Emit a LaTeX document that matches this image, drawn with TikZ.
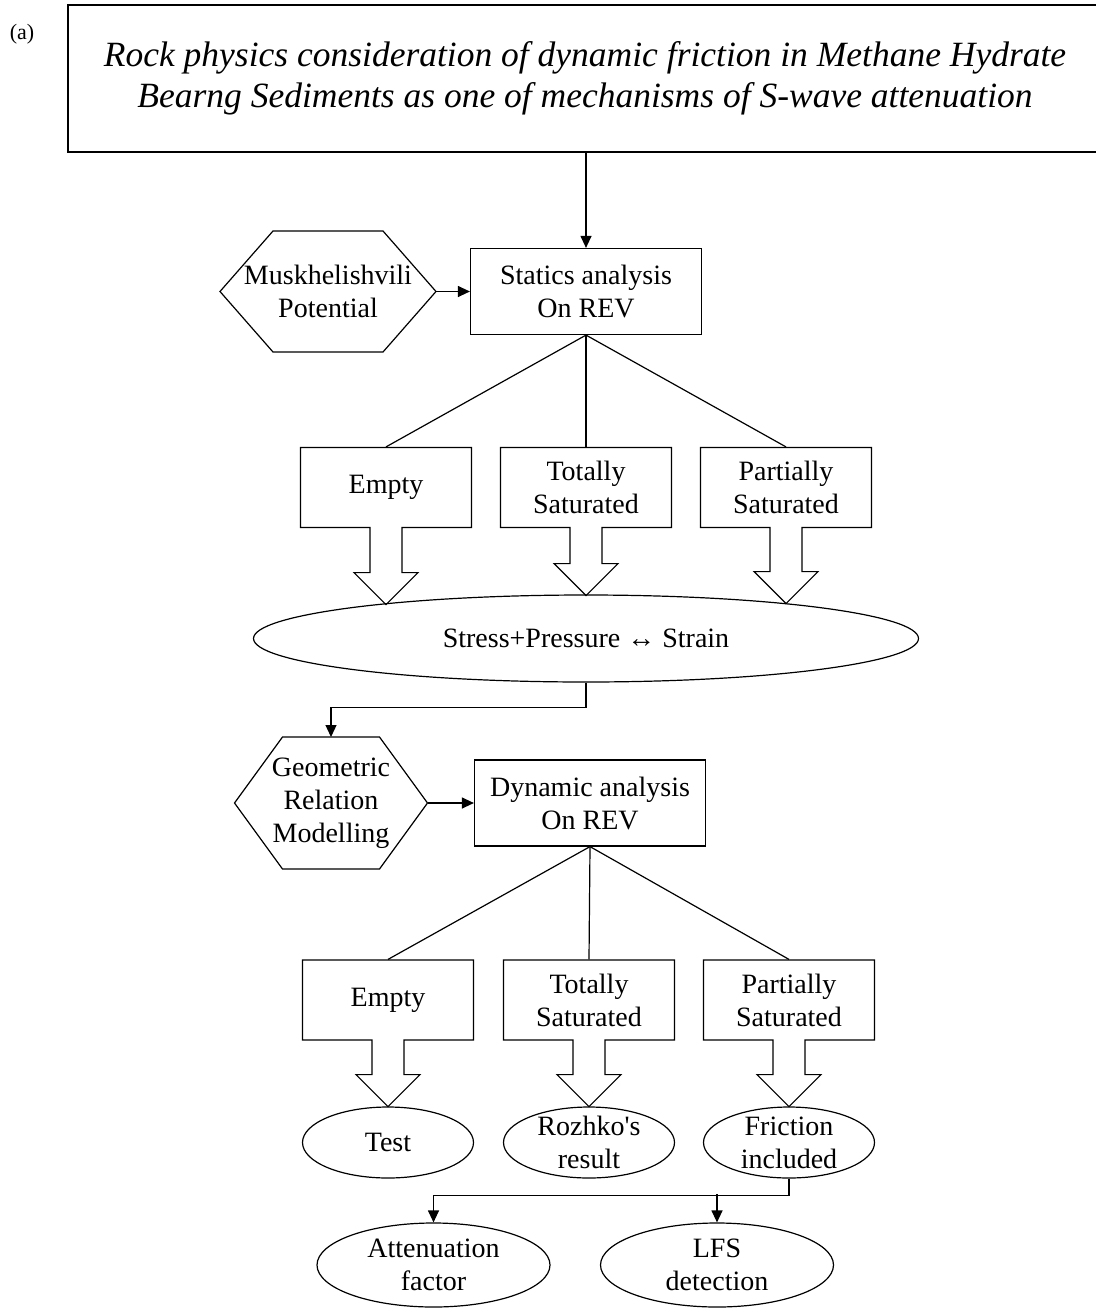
\documentclass[tikz,border=0pt]{standalone}
\usepackage{fontspec}
\setmainfont{Liberation Serif}
\usetikzlibrary{shapes.geometric,shapes.arrows,arrows.meta}

\begin{document}
\begin{tikzpicture}[
  x=1pt, y=-1pt,
  every node/.style={font=\fontsize{28}{33}\selectfont, align=center},
  titlebox/.style={draw, line width=1.2pt, minimum width=1034pt, minimum height=147pt, inner sep=0pt, font=\fontsize{35.5}{41}\selectfont\itshape},
  procbox/.style={draw, line width=1.2pt, minimum width=231pt, minimum height=86pt, inner sep=0pt},
  hextext/.style={inner sep=0pt},
  casebox/.style={draw, line width=1.2pt, arrow box, minimum width=171pt, minimum height=80pt, inner sep=0pt, arrow box shaft width=32pt, arrow box head extend=16pt},
  bigoval/.style={draw, line width=1.2pt, ellipse, minimum width=665pt, minimum height=87pt, inner sep=0pt},
  oval/.style={draw, line width=1.2pt, ellipse, minimum width=171pt, minimum height=71pt, inner xsep=0pt, inner ysep=-7pt},
  endoval/.style={oval, minimum width=233pt, minimum height=84pt},
  link/.style={line width=1.2pt},
  flow/.style={line width=1.2pt, -{Triangle[length=12pt,width=11pt]}},
]
  \useasboundingbox (0,0) rectangle (1095,1308);

  \node[font=\fontsize{22}{24}\selectfont] (tag) at (22,34) {(a)};
  \node[titlebox] (title) at (585,78.5) {Rock physics consideration of dynamic friction in Methane Hydrate\\Bearng Sediments as one of mechanisms of S-wave attenuation};

  % statics part
  \node[procbox] (stat) at (586,291.5) {Statics analysis\\On REV};
  \node[hextext] (musk) at (328,291.5) {Muskhelishvili\\Potential};
  \draw[link] (musk.center) ++(-55,-60.5) -- ++(110,0) -- ++(53,60.5) coordinate (musk-tip)
    -- ++(-53,60.5) -- ++(-110,0) -- ++(-53,-60.5) -- cycle;

  \node[casebox, arrow box arrows={south:76.5pt from border}] (empty1) at (386,487.5) {Empty};
  \node[casebox, arrow box arrows={south:67.5pt from border}] (total1) at (586,487.5) {Totally\\Saturated};
  \node[casebox, arrow box arrows={south:75.5pt from border}] (part1) at (786,487.5) {Partially\\Saturated};

  \node[bigoval] (strain) at (586,638.5) {Stress+Pressure ↔ Strain};

  % dynamic part
  \node[procbox] (dyn) at (590,803) {Dynamic analysis\\On REV};
  \node[hextext] (geo) at (331,803) {Geometric\\Relation\\Modelling};
  \draw[link] (geo.center) ++(0,-66) coordinate (geo-top) ++(-48.5,0) -- ++(97,0) -- ++(48,66) coordinate (geo-tip)
    -- ++(-48,66) -- ++(-97,0) -- ++(-48,-66) -- cycle;

  \node[casebox, arrow box arrows={south:66pt from border}] (empty2) at (388,1000) {Empty};
  \node[casebox, arrow box arrows={south:66pt from border}] (total2) at (589,1000) {Totally\\Saturated};
  \node[casebox, arrow box arrows={south:66pt from border}] (part2) at (789,1000) {Partially\\Saturated};

  \node[oval] (test) at (388,1142.5) {Test};
  \node[oval] (rozhko) at (589,1142.5) {Rozhko\textquotesingle s\\result};
  \node[oval] (fric) at (789,1142.5) {Friction\\included};

  \node[endoval] (atten) at (433.5,1265) {Attenuation\\factor};
  \node[endoval] (lfs) at (717,1265) {LFS\\detection};

  % connectors
  \draw[flow] (stat.north |- title.south) -- (stat.north);
  \draw[flow] (musk-tip) -- (stat.west);
  \draw[link] (stat.south) -- (empty1.north);
  \draw[link] (stat.south) -- (total1.north);
  \draw[link] (stat.south) -- (part1.north);
  \draw[flow] (strain.south) -- ++(0,25) -| (geo-top);
  \draw[flow] (geo-tip) -- (dyn.west);
  \draw[link] (dyn.south) -- (empty2.north);
  \draw[link] (dyn.south) -- (total2.north);
  \draw[link] (dyn.south) -- (part2.north);
  \draw[flow] (fric.south) -- ++(0,17) -| (atten.north);
  \draw[flow] (lfs.north) ++(0,-28) -- (lfs.north);
\end{tikzpicture}
\end{document}
